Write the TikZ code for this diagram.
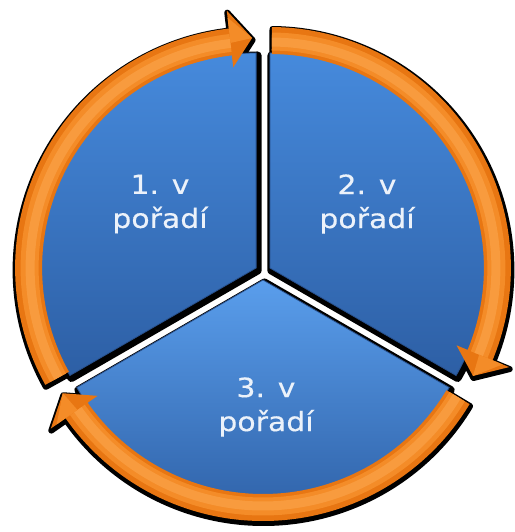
\documentclass[tikz,border=0pt]{standalone}
\usepackage{fontspec}
\usepackage{tikz}
\newfontfamily\labelfont[FakeStretch=1.13,FakeBold=0.4]{DejaVu Sans}
\definecolor{blueTop}{RGB}{70,138,220}
\definecolor{blueLight}{RGB}{90,158,236}
\definecolor{blueBot}{RGB}{45,95,165}
\definecolor{blueEdge}{RGB}{40,80,140}
\definecolor{orangeBase}{RGB}{232,118,18}
\definecolor{orangeHigh}{RGB}{244,140,40}
\definecolor{orangeTop}{RGB}{250,162,72}
\definecolor{labelWhite}{RGB}{236,242,250}
\tikzset{
  sector shadow/.style={fill=black,draw=black,line width=8pt,line join=round,xshift=1.5pt,yshift=-2.5pt},
  arrow shadow/.style={fill=black,draw=black,line width=6pt,line join=round,xshift=0.5pt,yshift=-2pt},
  label text/.style={text=labelWhite,align=center,font=\labelfont\fontsize{26.5}{34}\selectfont,inner sep=0pt}
}
\begin{document}
\begin{tikzpicture}[x=1pt,y=1pt]
        \useasboundingbox (0,0) rectangle (514,532);
        \fill[white] (0,0) rectangle (514,532);
        \coordinate (s1) at (256.1,264);
        \coordinate (s2) at (269.9,264);
        \coordinate (s3) at (263,252);
        % shadows
        \foreach \c/\a/\b in {s1/210/90,s2/90/-30,s3/-30/-150} {
            \begin{scope}[shift={(\c)}]
              \fill[sector shadow] (0,0) -- (\a:215) arc[start angle=\a,end angle=\b,radius=215] -- cycle;
            \end{scope}
          }
        \foreach \c/\a/\t in {s1/209/91,s2/89.5/-28,s3/-31/-150.5} {
            \pgfmathsetmacro\h{\t+5.5}
            \begin{scope}[shift={(\c)}]
              \fill[arrow shadow] (\a:241) arc[start angle=\a,end angle=\h,radius=241] -- (\h:259) -- (\t:230)
                -- (\h:202) -- (\h:214) arc[start angle=\h,end angle=\a,radius=214] -- cycle;
            \end{scope}
          }
        % sectors
        \foreach \c/\a/\b/\col in {s1/210/90/blueTop,s2/90/-30/blueTop,s3/-30/-150/blueLight} {
            \begin{scope}[shift={(\c)}]
              \shade[top color=\col,bottom color=blueBot,draw=blueEdge,line width=0.8pt]
                (0,0) -- (\a:215) arc[start angle=\a,end angle=\b,radius=215] -- cycle;
            \end{scope}
          }
        % arrows
        \foreach \c/\a/\t in {s1/209/91,s2/89.5/-28,s3/-31/-150.5} {
            \pgfmathsetmacro\h{\t+5.5}
            \begin{scope}[shift={(\c)}]
              \fill[orangeBase] (\a:241) arc[start angle=\a,end angle=\h,radius=241] -- (\h:259) -- (\t:230)
                -- (\h:202) -- (\h:214) arc[start angle=\h,end angle=\a,radius=214] -- cycle;
              \draw[orangeHigh,line width=18pt] (\a:226.5) arc[start angle=\a,end angle=\h,radius=226.5];
              \draw[orangeTop,line width=9pt,opacity=0.7] (\a:226) arc[start angle=\a,end angle=\h,radius=226];
              \fill[orangeHigh] (\h:226.5) -- (\h:252) -- (\t:230) -- cycle;
            \end{scope}
          }
        \node[label text] (l1) at (160,328) {1. v\\pořadí};
        \node[label text] (l2) at (367,328) {2. v\\pořadí};
        \node[label text] (l3) at (266,125) {3. v\\pořadí};
      \end{tikzpicture}
\end{document}
